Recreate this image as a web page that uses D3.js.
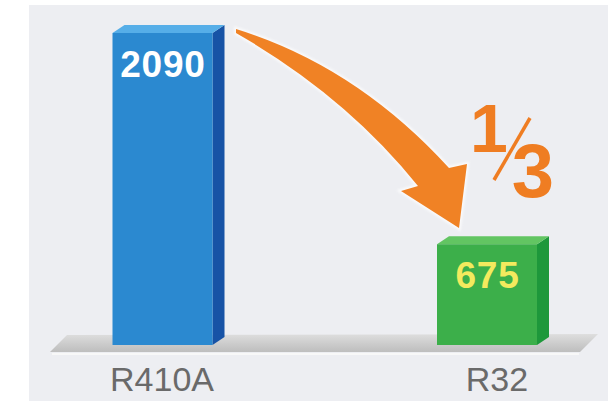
<!DOCTYPE html>
<html>
<head>
<meta charset="utf-8">
<script src="https://cdn.jsdelivr.net/npm/d3@7"></script>
<style>
  html, body { margin: 0; padding: 0; background: #fff; }
  svg { display: block; }
</style>
</head>
<body>
<div id="chart"></div>
<script>
var w = 608, h = 401;

// Data
var categories = ["R410A", "R32"];
var values = [2090, 675];
var valueColors = ["#ffffff", "#f3ea5e"];
var ratioLabel = ["1", "3"];

// bar look
var barW = 100, depthX = 12, depthY = 8;
var faces = [
  { front: "#2b89d0", side: "#1753a6", top: "#56aee8" },
  { front: "#3caf4a", side: "#1e983b", top: "#62c562" }
];

var svg = d3.select("#chart")
  .append("svg")
  .attr("width", w)
  .attr("height", h);

var defs = svg.append("defs");

var floorGrad = defs.append("linearGradient")
  .attr("id", "floorGrad")
  .attr("x1", 0).attr("y1", 0).attr("x2", 0).attr("y2", 1);
floorGrad.append("stop").attr("offset", "0%").attr("stop-color", "#dedede");
floorGrad.append("stop").attr("offset", "60%").attr("stop-color", "#cacaca");
floorGrad.append("stop").attr("offset", "100%").attr("stop-color", "#bebebe");

var glow = defs.append("filter").attr("id", "glow")
  .attr("x", "-20%").attr("y", "-20%").attr("width", "140%").attr("height", "140%");
glow.append("feGaussianBlur").attr("stdDeviation", 1.2);

// background panel
svg.append("rect")
  .attr("x", 29).attr("y", 5)
  .attr("width", w - 29).attr("height", h - 5)
  .attr("fill", "#edeef2");

// scales
var xScale = d3.scalePoint()
  .domain(categories)
  .range([162.5, 487]);

// the category names under the floor sit a little wider apart than the bars
var labelScale = d3.scalePoint()
  .domain(categories)
  .range([162, 497]);

var yScale = d3.scaleLinear()
  .domain([0, d3.max(values)])
  .range([345, 33]);

// floor
svg.append("path")
  .attr("d", "M67,335 L598,334 L580,352 L50,352 Z")
  .attr("fill", "url(#floorGrad)");
svg.append("line")
  .attr("x1", 52).attr("y1", 354).attr("x2", 579).attr("y2", 354)
  .attr("stroke", "#f8f8f8").attr("stroke-width", 2);

// bars
var bars = svg.append("g").selectAll("g")
  .data(values)
  .enter()
  .append("g");

bars.append("path")
  .attr("fill", function(d, i) { return faces[i].side; })
  .attr("d", function(d, i) {
    var x = xScale(categories[i]) + barW / 2, y0 = yScale(0), y1 = yScale(d);
    return "M" + x + "," + y1 + " L" + (x + depthX) + "," + (y1 - depthY) +
      " L" + (x + depthX) + "," + (y0 - depthY) + " L" + x + "," + y0 + " Z";
  });

bars.append("path")
  .attr("fill", function(d, i) { return faces[i].top; })
  .attr("d", function(d, i) {
    var x = xScale(categories[i]) - barW / 2, y1 = yScale(d);
    return "M" + x + "," + y1 + " L" + (x + depthX) + "," + (y1 - depthY) +
      " L" + (x + barW + depthX) + "," + (y1 - depthY) + " L" + (x + barW) + "," + y1 + " Z";
  });

bars.append("rect")
  .attr("x", function(d, i) { return xScale(categories[i]) - barW / 2; })
  .attr("y", function(d) { return yScale(d); })
  .attr("width", barW)
  .attr("height", function(d) { return yScale(0) - yScale(d); })
  .attr("fill", function(d, i) { return faces[i].front; });

// value labels
bars.append("text")
  .attr("x", function(d, i) { return xScale(categories[i]) + 0.5; })
  .attr("y", function(d) { return yScale(d) + 44; })
  .attr("text-anchor", "middle")
  .attr("font-family", "Liberation Sans, Arial, sans-serif")
  .attr("font-weight", "bold")
  .attr("font-size", 37)
  .attr("letter-spacing", 0.8)
  .attr("fill", function(d, i) { return valueColors[i]; })
  .text(function(d) { return d; });

// category labels
svg.append("g").selectAll("text")
  .data(categories)
  .enter()
  .append("text")
  .attr("x", function(d) { return labelScale(d); })
  .attr("y", 391)
  .attr("text-anchor", "middle")
  .attr("font-family", "Liberation Sans, Arial, sans-serif")
  .attr("font-size", 34)
  .attr("fill", "#6a6a6a")
  .text(function(d) { return d; });

// curved arrow
var arrowPath = "M236,29 Q356,66 449,168 L467,164 L459,228 L401,191 L418,186 Q346,96 236,33 Z";
svg.append("path")
  .attr("d", arrowPath)
  .attr("fill", "none")
  .attr("stroke", "#ffffff")
  .attr("stroke-width", 4)
  .attr("opacity", 0.7)
  .attr("filter", "url(#glow)");
svg.append("path")
  .attr("d", arrowPath)
  .attr("fill", "#f08225");

// 1/3 fraction
var frac = svg.append("g").attr("fill", "#ef7d22")
  .attr("font-family", "Liberation Sans, Arial, sans-serif")
  .attr("font-weight", "bold");
frac.append("text")
  .attr("x", 489).attr("y", 152)
  .attr("text-anchor", "middle")
  .attr("font-size", 68)
  .text(ratioLabel[0]);
frac.append("line")
  .attr("x1", 530).attr("y1", 118).attr("x2", 494).attr("y2", 180)
  .attr("stroke", "#ef7d22").attr("stroke-width", 3.5);
frac.append("text")
  .attr("x", 533).attr("y", 197)
  .attr("text-anchor", "middle")
  .attr("font-size", 76)
  .text(ratioLabel[1]);
</script>
</body>
</html>
